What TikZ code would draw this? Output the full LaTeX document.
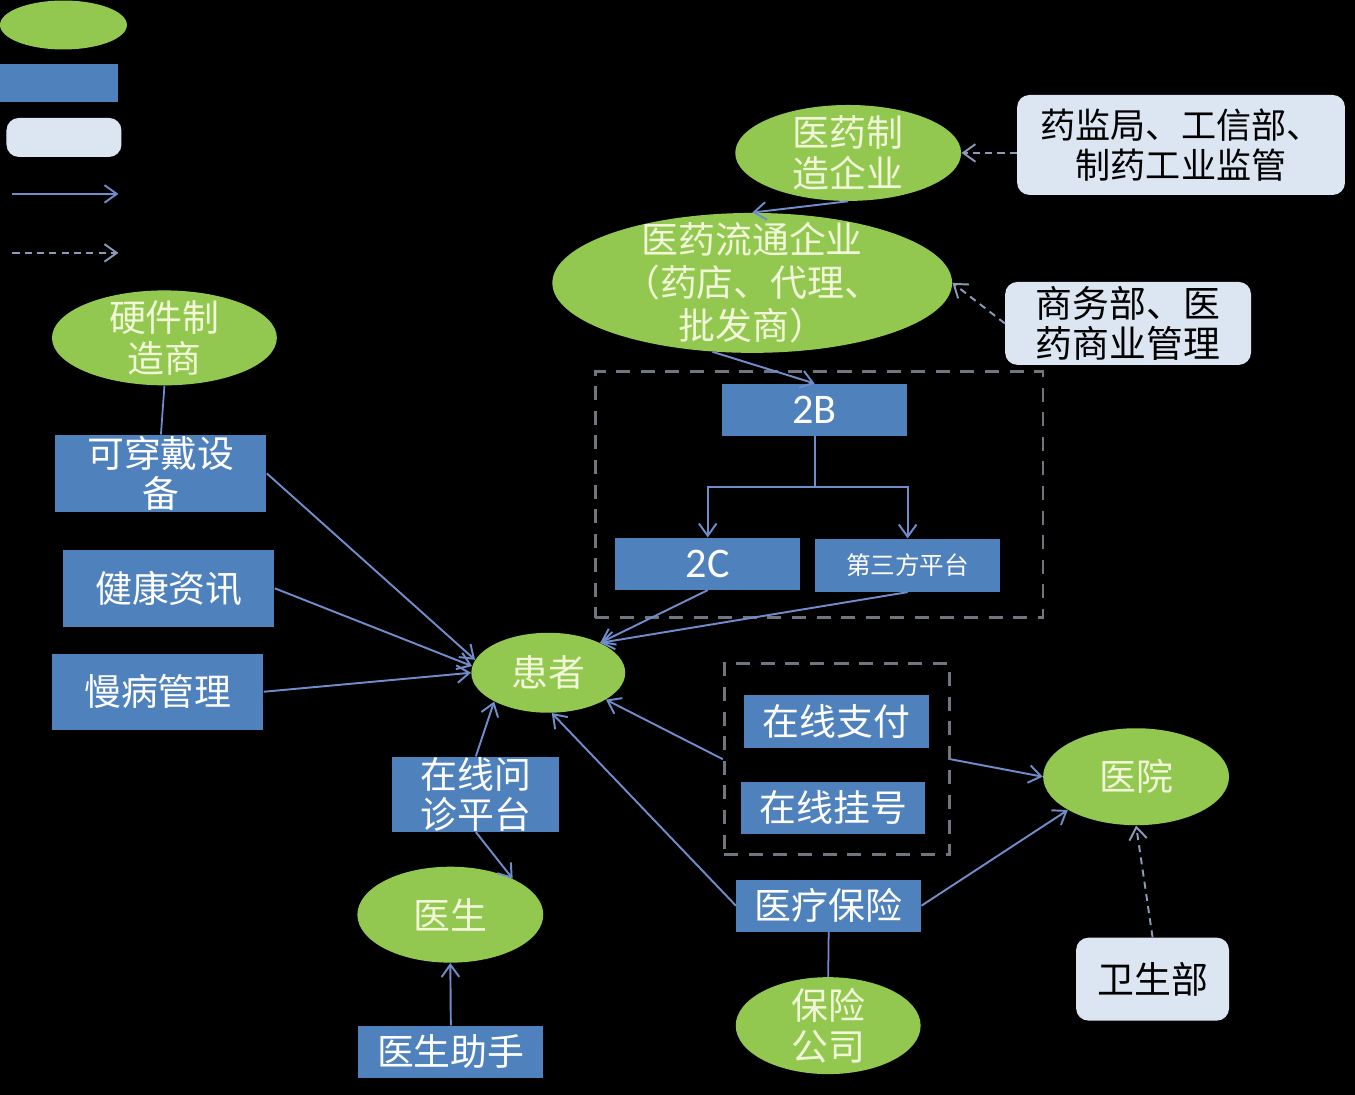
\documentclass[tikz,border=0pt]{standalone}
\usepackage{fontspec}
\setmainfont{Carlito}
\newfontfamily\cjk{Noto Sans CJK SC}
\usetikzlibrary{shapes.geometric, arrows.meta, calc}
\definecolor{leaf}{HTML}{92C850}
\definecolor{boxblue}{HTML}{4F81BD}
\definecolor{notegray}{HTML}{DCE6F2}
\definecolor{paletext}{HTML}{F2F7D8}
\definecolor{linkblue}{HTML}{6F8CCB}
\definecolor{dashgray}{HTML}{8A9AB8}
\definecolor{grpgray}{HTML}{70757F}

\begin{document}
\begin{tikzpicture}[x=0.02cm, y=-0.02cm, >={Straight Barb[length=7pt,width=10pt]}]
  \tikzset{greenell/.style={ellipse, fill=leaf, draw=none, inner sep=0},
    etext/.style={font=\cjk\fontsize{21}{23}\selectfont, text=paletext, align=center},
    bluebox/.style={rectangle, fill=boxblue, inner sep=0, text=white, align=center,
      font=\cjk\fontsize{21}{23}\selectfont},
    notebox/.style={rectangle, rounded corners=7pt, fill=notegray, inner sep=0, text=black,
      align=center, font=\cjk\fontsize{20}{23}\selectfont},
    linkarr/.style={->, draw=linkblue, line width=1.1pt},
    plainline/.style={draw=linkblue, line width=1pt},
    dasharr/.style={->, draw=dashgray, line width=1.1pt, dash pattern=on 4pt off 3pt},
    groupbox/.style={draw=grpgray, line width=1.6pt, dash pattern=on 8pt off 6pt, inner sep=0}}
  \fill[black] (0,0) rectangle (1355,1095);
  % legend
  \node[greenell, minimum width=2.54cm, minimum height=0.98cm] (leg1) at (63,25) {};
  \node[bluebox, minimum width=2.36cm, minimum height=0.76cm] (leg2) at (59,83) {};
  \node[notebox, minimum width=2.3cm, minimum height=0.78cm] (leg3) at (63.5,137.5) {};
  \coordinate (leg4a) at (12,194);
  \coordinate (leg4b) at (118,194);
  \coordinate (leg5a) at (12,253);
  \coordinate (leg5b) at (118,253);
  \draw[linkarr] (leg4a) -- (leg4b);
  \draw[dasharr] (leg5a) -- (leg5b);
  % pharma chain
  \node[greenell, minimum width=4.52cm, minimum height=1.92cm,
    label={[etext]center:{医药制\\造企业}}] (pm) at (848,153) {};
  \node[notebox, minimum width=6.56cm, minimum height=2cm] (reg1) at (1181,145)
    {药监局、工信部、\\制药工业监管};
  \node[greenell, minimum width=8cm, minimum height=2.8cm,
    label={[etext, font=\cjk\fontsize{21}{24.5}\selectfont]center:{医药流通企业\\（药店、代理、\\批发商）}}] (pdist) at (752,283) {};
  \node[notebox, font=\cjk\fontsize{21}{23}\selectfont, minimum width=4.92cm, minimum height=1.66cm]
    (reg2) at (1128,323.5) {商务部、医\\药商业管理};
  \node[groupbox, minimum width=8.96cm, minimum height=4.92cm] (grp1) at (819,495) {};
  \node[bluebox, font=\fontsize{24}{28}\selectfont, minimum width=3.7cm, minimum height=1.04cm] (b2) at (814.5,410) {2B};
  \node[bluebox, font=\fontsize{24}{28}\selectfont, minimum width=3.7cm, minimum height=1.04cm] (c2) at (707.5,564) {2C};
  \node[bluebox, font=\cjk\fontsize{14}{16}\selectfont, minimum width=3.7cm, minimum height=1.06cm] (tp) at (907.5,565.5) {第三方平台};
  % patient side
  \node[greenell, minimum width=3.08cm, minimum height=1.6cm,
    label={[etext]center:患者}] (pat) at (548,673) {};
  \node[greenell, minimum width=4.5cm, minimum height=1.9cm,
    label={[etext]center:{硬件制\\造商}}] (hw) at (164,338) {};
  \node[bluebox, minimum width=4.22cm, minimum height=1.54cm] (wear) at (160.5,473.5) {可穿戴设\\备};
  \node[bluebox, minimum width=4.22cm, minimum height=1.54cm] (info) at (168.5,588.5) {健康资讯};
  \node[bluebox, minimum width=4.22cm, minimum height=1.52cm] (chron) at (157.5,692) {慢病管理};
  \node[bluebox, minimum width=3.34cm, minimum height=1.5cm] (cons) at (475.5,794.5) {在线问\\诊平台};
  \node[greenell, minimum width=3.72cm, minimum height=1.92cm,
    label={[etext]center:医生}] (doc) at (450,915) {};
  \node[bluebox, minimum width=3.7cm, minimum height=1.04cm] (asst) at (450.5,1052) {医生助手};
  % hospital side
  \node[groupbox, minimum width=4.5cm, minimum height=3.82cm] (grp2) at (836.5,759.5) {};
  \node[bluebox, minimum width=3.7cm, minimum height=1.06cm] (pay) at (836.5,721.5) {在线支付};
  \node[bluebox, minimum width=3.68cm, minimum height=1.04cm] (reg) at (833,808) {在线挂号};
  \node[greenell, minimum width=3.72cm, minimum height=1.94cm,
    label={[etext]center:医院}] (hos) at (1136,777) {};
  \node[bluebox, minimum width=3.7cm, minimum height=1.04cm] (ins) at (828.5,906) {医疗保险};
  \node[greenell, minimum width=3.7cm, minimum height=1.94cm,
    label={[etext]center:{保险\\公司}}] (icorp) at (828,1026) {};
  \node[notebox, font=\cjk\fontsize{21}{23}\selectfont, minimum width=3.06cm, minimum height=1.66cm]
    (moh) at (1152.5,979.5) {卫生部};
  % connectors
  \draw[linkarr] (pm.south) -- (pdist.north);
  \draw[dasharr] (reg1.west |- pm.east) -- (pm.east);
  \draw[dasharr] (reg2.west) -- (pdist.east);
  \draw[linkarr] (pdist.240) -- (b2.north);
  \draw[linkarr] (b2.south) -- ++(0,51) -| (c2.north);
  \draw[linkarr] (b2.south) -- ++(0,51) -| (tp.north);
  \draw[linkarr] (c2.south) -- (pat.30);
  \draw[linkarr] (tp.south) -- (pat.30);
  \draw[plainline] (hw.south) -- (wear.north);
  \draw[linkarr] (wear.east) -- (pat.170);
  \draw[linkarr] (info.east) -- (pat.175);
  \draw[linkarr] (chron.east) -- (pat.west);
  \draw[linkarr] (cons.north) -- (pat.208);
  \draw[linkarr] (cons.south) -- (doc.30);
  \draw[linkarr] (asst.north) -- (doc.south);
  \draw[linkarr] (grp2.west) -- (pat.-25);
  \draw[linkarr] (grp2.east) -- (hos.west);
  \draw[linkarr] (ins.west) -- (pat.-85);
  \draw[linkarr] (ins.east) -- (hos.206);
  \draw[plainline] (ins.south) -- (icorp.north);
  \draw[dasharr] (moh.north) -- (hos.south);
\end{tikzpicture}
\end{document}
